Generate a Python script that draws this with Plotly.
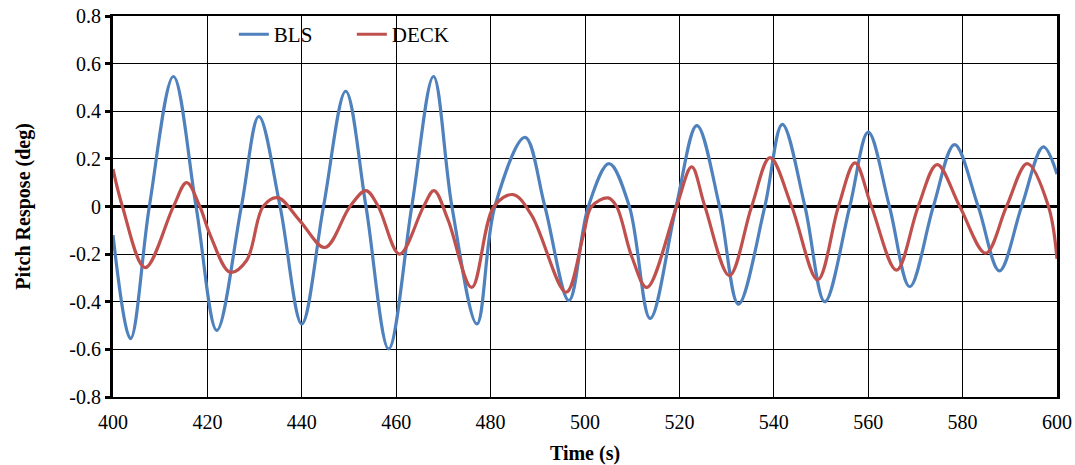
import plotly.graph_objects as go

# BLS pitch response: key points (time s, value deg)
bls_t = [400.0, 403.7, 407.7, 412.8, 417.6, 422.0, 427.2, 430.9, 435.4, 440.0,
         444.6, 449.3, 453.6, 458.4, 463.3, 467.9, 471.8, 477.1, 480.9, 487.3,
         491.5, 496.6, 500.7, 505.1, 509.4, 513.8, 519.3, 523.7, 528.5, 532.5,
         538.1, 541.8, 546.6, 550.8, 556.1, 560.0, 564.5, 568.8, 573.8, 578.3,
         583.3, 587.8, 592.5, 597.1, 600.0]
bls_v = [-0.12, -0.555, 0.0, 0.546, 0.0, -0.52, 0.0, 0.378, 0.0, -0.493,
         0.0, 0.484, 0.0, -0.598, 0.0, 0.546, 0.0, -0.493, 0.0, 0.29,
         0.0, -0.395, 0.0, 0.18, 0.0, -0.47, 0.0, 0.34, 0.0, -0.41,
         0.0, 0.345, 0.0, -0.40, 0.0, 0.312, 0.0, -0.337, 0.0, 0.26,
         0.0, -0.27, 0.0, 0.25, 0.137]

# DECK pitch response: key points (time s, value deg)
deck_t = [400.0, 402.0, 406.8, 412.8, 415.6, 418.4, 420.6, 424.8, 428.3, 431.8,
          434.9, 439.6, 444.9, 450.2, 453.6, 456.2, 460.7, 465.8, 468.0, 471.0,
          476.0, 480.7, 484.8, 488.7, 496.0, 499.6, 501.4, 504.9, 506.7, 509.9,
          513.1, 519.4, 522.6, 525.4, 530.6, 535.3, 539.2, 543.8, 549.3, 553.7,
          557.2, 560.7, 566.0, 570.6, 574.6, 579.4, 584.9, 589.3, 593.7, 598.2,
          600.0]
deck_v = [0.157, 0.0, -0.257, 0.0, 0.10, 0.0, -0.12, -0.276, -0.227, 0.0,
          0.037, -0.06, -0.172, 0.0, 0.067, 0.0, -0.20, 0.0, 0.067, -0.057,
          -0.34, 0.0, 0.05, -0.037, -0.36, -0.125, 0.0, 0.036, 0.0, -0.21,
          -0.34, 0.0, 0.166, 0.0, -0.29, 0.0, 0.205, 0.0, -0.308, 0.0,
          0.183, 0.0, -0.267, 0.0, 0.176, 0.0, -0.196, 0.0, 0.18, 0.0,
          -0.22]

x_ticks = [400, 420, 440, 460, 480, 500, 520, 540, 560, 580, 600]
y_ticks = [-0.8, -0.6, -0.4, -0.2, 0, 0.2, 0.4, 0.6, 0.8]
y_labels = ["-0.8", "-0.6", "-0.4", "-0.2", "0", "0.2", "0.4", "0.6", "0.8"]

FONT = "Liberation Serif"

fig = go.Figure()
fig.add_trace(go.Scatter(x=bls_t, y=bls_v, mode="lines", name="BLS", legend="legend",
                         line=dict(color="#4F81BD", width=3.2, shape="spline", smoothing=1.0)))
fig.add_trace(go.Scatter(x=deck_t, y=deck_v, mode="lines", name="DECK", legend="legend2",
                         line=dict(color="#C0504D", width=3.2, shape="spline", smoothing=1.0)))

leg_common = dict(orientation="h", y=1.005, xanchor="left", yanchor="top",
                  bgcolor="rgba(0,0,0,0)", font=dict(family=FONT, size=21, color="black"))

fig.update_layout(
    width=1075, height=465,
    margin=dict(l=113, r=18, t=16, b=68),
    paper_bgcolor="white", plot_bgcolor="white",
    font=dict(family=FONT, size=20, color="black"),
    showlegend=True,
    legend=dict(x=0.128, **leg_common),
    legend2=dict(x=0.253, **leg_common),
)
fig.update_xaxes(
    range=[400, 600], tickmode="array", tickvals=x_ticks,
    showgrid=True, gridcolor="black", gridwidth=1.3,
    showline=True, linecolor="black", linewidth=2, mirror=True,
    ticks="outside", ticklen=6, tickcolor="rgba(0,0,0,0)",
    tickfont=dict(family=FONT, size=20), automargin=False,
    title=dict(text="<b>Time (s)</b>", font=dict(family=FONT, size=20), standoff=15),
    zeroline=False,
)
fig.update_yaxes(
    range=[-0.8, 0.8], tickmode="array", tickvals=y_ticks, ticktext=y_labels,
    showgrid=True, gridcolor="black", gridwidth=1.3,
    showline=True, linecolor="black", linewidth=3, mirror=True,
    ticks="outside", ticklen=5, tickwidth=3, tickcolor="black",
    tickfont=dict(family=FONT, size=20), automargin=False,
    title=dict(text="<b>Pitch Respose (deg)</b>", font=dict(family=FONT, size=20), standoff=34),
    zeroline=True, zerolinecolor="black", zerolinewidth=3,
)

fig.write_html("out.html")
